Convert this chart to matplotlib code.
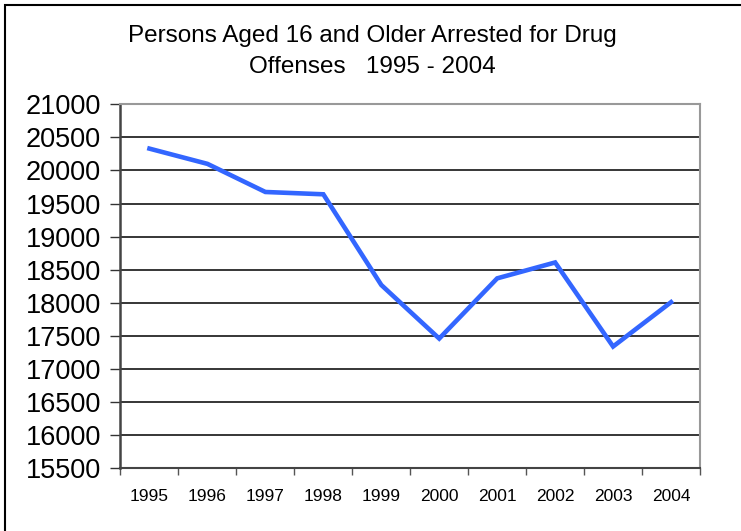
import matplotlib.pyplot as plt
from matplotlib.patches import Rectangle
from matplotlib.ticker import FixedLocator, NullFormatter

years = ['1995', '1996', '1997', '1998', '1999', '2000', '2001', '2002', '2003', '2004']
arrests = [20330, 20100, 19675, 19640, 18270, 17460, 18370, 18610, 17340, 18010]
yticks = list(range(15500, 21001, 500))

plt.rcParams['font.family'] = ['Liberation Sans', 'DejaVu Sans']

fig = plt.figure(figsize=(7.41, 5.31), dpi=100)
ax = fig.add_axes([0.1626, 0.1181, 0.7821, 0.6855])

# outer chart frame (only top/left edges fall inside the image)
fig.patches.append(Rectangle((5 / 741, -0.05), 1.1, 1 - 5 / 531 + 0.05,
                             transform=fig.transFigure, fill=False,
                             edgecolor='black', linewidth=1.5, zorder=0))

x = list(range(len(years)))
ax.plot(x, arrests, color='#3366FF', linewidth=3.3, solid_joinstyle='miter', zorder=3)

ax.set_xlim(-0.5, len(years) - 0.5)
ax.set_ylim(15500, 21000)
ax.set_yticks(yticks)
ax.set_yticklabels([str(v) for v in yticks], fontsize=19.5)
ax.tick_params(axis='y', length=7, width=1.0, color='#333333', pad=7)
ax.yaxis.grid(True, color='black', linewidth=1.1)
ax.set_axisbelow(True)

# category boundaries get the ticks, centers get the labels
ax.xaxis.set_major_locator(FixedLocator([i - 0.5 for i in range(len(years) + 1)]))
ax.xaxis.set_major_formatter(NullFormatter())
ax.xaxis.set_minor_locator(FixedLocator(x))
ax.set_xticklabels(years, minor=True, fontsize=12.5)
ax.tick_params(axis='x', which='major', length=5, width=1.0, color='#555555')
ax.tick_params(axis='x', which='minor', length=0, pad=15)

ax.spines['left'].set_color('#444444')
ax.spines['left'].set_linewidth(1.8)
ax.spines['bottom'].set_color('#444444')
ax.spines['bottom'].set_linewidth(1.5)
ax.spines['top'].set_color('#999999')
ax.spines['top'].set_linewidth(1.5)
ax.spines['right'].set_color('#999999')
ax.spines['right'].set_linewidth(1.5)

fig.text(0.503, 0.932, 'Persons Aged 16 and Older Arrested for Drug',
         ha='center', va='center', fontsize=17.5)
fig.text(0.503, 0.873, 'Offenses   1995 - 2004',
         ha='center', va='center', fontsize=17.5)

fig.savefig('out.png', dpi=100)
